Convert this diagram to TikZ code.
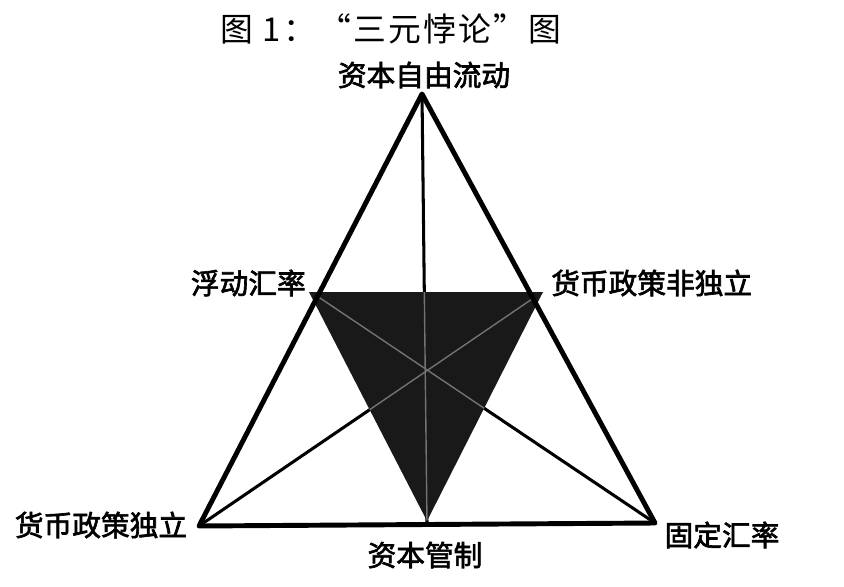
\documentclass[tikz,border=0pt]{standalone}
\usepackage{fontspec}
\newfontfamily\cjk{Noto Sans CJK SC}[FakeBold=2.2]
\newfontfamily\cjktitle{Noto Sans CJK SC}[LetterSpace=7]
\usetikzlibrary{positioning}
\tikzset{
	corner/.style={font=\cjk\fontsize{24.5}{26}\selectfont, inner sep=0pt},
	heading/.style={font=\cjktitle\fontsize{28}{30}\selectfont, inner sep=0pt},
	rim/.style={line width=4.2pt, line join=round},
	median/.style={line width=2.6pt},
}
\begin{document}
\begin{tikzpicture}[x=0.03cm, y=-0.03cm]
	\useasboundingbox (0, 0) rectangle (844, 586);
	\node [heading] (title) at (391, 29) {图 1：“三元悖论”图};
	% outer triangle and the points where the medians meet it
	\coordinate (top) at (422, 94);
	\coordinate (bl) at (199, 526);
	\coordinate (br) at (655, 523);
	\coordinate (lm) at (317, 296);
	\coordinate (rm) at (535, 297);
	\coordinate (bm) at (427, 523);
	\draw [median] (top) -- (bm);
	\draw [median] (bl) -- (rm);
	\draw [median] (br) -- (lm);
	% shaded triangle
	\fill [black!90] (309, 292) -- (543, 292) -- (427, 521) -- cycle;
	\begin{scope}
	\clip (309, 292) -- (543, 292) -- (427, 521) -- cycle;
	\draw [line width=1.2pt, black!55] (top) -- (bm) (bl) -- (rm) (br) -- (lm);
	\end{scope}
	\draw [rim] (top) -- (bl) -- (br) -- cycle;
	% labels
	\node [corner] (flow) at (424, 75) {资本自由流动};
	\node [corner, anchor=east] (float) at (306, 283) {浮动汇率};
	\node [corner, anchor=west] (dep) at (551, 283) {货币政策非独立};
	\node [corner] (indep) at (101, 525) {货币政策独立};
	\node [corner] (ctrl) at (425, 555) {资本管制};
	\node [corner] (fixed) at (722, 535) {固定汇率};
\end{tikzpicture}
\end{document}
